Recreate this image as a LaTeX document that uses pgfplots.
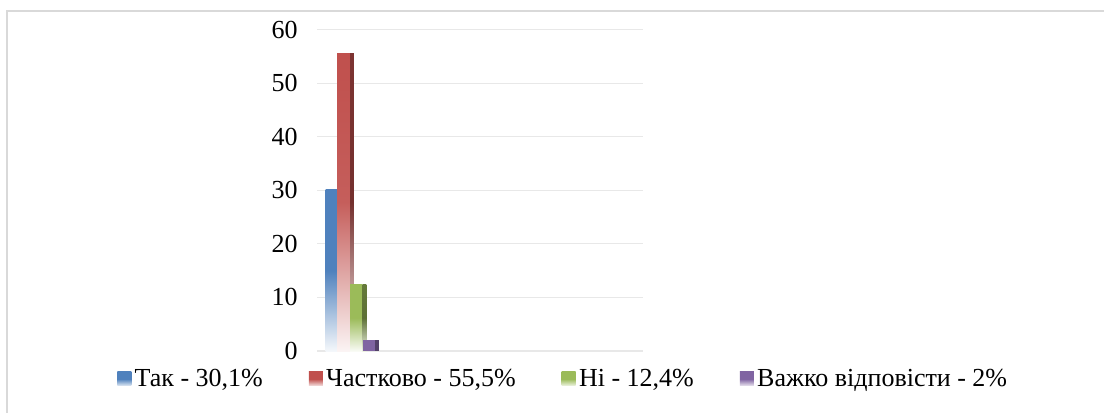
\documentclass[border=0pt]{standalone}
\usepackage{pgfplots}
\pgfplotsset{compat=1.18}
\usepackage{fontspec}
\setmainfont{Liberation Serif}
\newfontfamily\lserif{Liberation Serif}
\definecolor{cblue}{HTML}{4F81BD}
\definecolor{cred}{HTML}{C0504D}
\definecolor{cgreen}{HTML}{9BBB59}
\definecolor{cpurple}{HTML}{8064A2}
\definecolor{frame}{HTML}{D9D9D9}
\begin{document}
\begin{tikzpicture}
\path[use as bounding box] (0pt,0pt) rectangle (828pt,309pt);
\draw[frame, line width=1.5pt] (5.25pt,-10pt) -- (5.25pt,300.4pt) -- (840pt,300.4pt);
\begin{axis}[
  at={(237.75pt,45.75pt)}, anchor=south west,
  scale only axis, width=244.5pt, height=241.1pt,
  xmin=0, xmax=326, ymin=0, ymax=60,
  ytick={0,10,20,30,40,50,60}, xtick=\empty,
  ymajorgrids, major grid style={color=black!9, line width=0.8pt},
  axis line style={draw=none}, major tick length=0pt,
  /pgf/number format/assume math mode=true,
  yticklabel style={font=\lserif\fontsize{19.5}{23}\selectfont, xshift=-11pt},
  ybar, bar shift=0pt,
  legend columns=4,
  legend style={at={(axis description cs:-0.6135,-0.087)}, anchor=west,
    draw=none, fill=none, inner sep=0pt,
    font=\lserif\fontsize{19.5}{23}\selectfont,
    nodes={inner xsep=2.5pt, inner ysep=0pt},
    /tikz/every even column/.append style={column sep=32pt}},
]
\addplot[draw=none, bar width=12, top color=cblue, bottom color=cblue!6, middle color=cblue,
  legend image code/.code={\path[top color=cblue, bottom color=cblue!15, middle color=cblue] (0pt,-5.25pt) rectangle (10.5pt,5.25pt);}]
  coordinates {(14.5,30.1)};
\addlegendentry{Так - 30,1\%}
\addplot[forget plot, draw=none, bar width=3.8, top color=cblue!70!black, bottom color=cblue!10, middle color=cblue!70!black] coordinates {(22.4,30.1)};
\addplot[draw=none, bar width=13, top color=cred, bottom color=cred!6, middle color=cred!92!white,
  legend image code/.code={\path[top color=cred, bottom color=cred!15, middle color=cred] (0pt,-5.25pt) rectangle (10.5pt,5.25pt);}]
  coordinates {(26.5,55.5)};
\addlegendentry{Частково - 55,5\%}
\addplot[forget plot, draw=none, bar width=3.8, top color=cred!65!black, bottom color=cred!15, middle color=cred!60!black] coordinates {(34.9,55.5)};
\addplot[draw=none, bar width=12.6, top color=cgreen, bottom color=cgreen!6, middle color=cgreen,
  legend image code/.code={\path[top color=cgreen, bottom color=cgreen!15, middle color=cgreen] (0pt,-5.25pt) rectangle (10.5pt,5.25pt);}]
  coordinates {(39.3,12.4)};
\addlegendentry{Ні - 12,4\%}
\addplot[forget plot, draw=none, bar width=3.8, top color=cgreen!65!black, bottom color=cgreen!20, middle color=cgreen!60!black] coordinates {(47.5,12.4)};
\addplot[draw=none, bar width=12, fill=cpurple,
  legend image code/.code={\path[top color=cpurple, bottom color=cpurple!15, middle color=cpurple] (0pt,-5.25pt) rectangle (10.5pt,5.25pt);}]
  coordinates {(52,2)};
\addlegendentry{Важко відповісти - 2\%}
\addplot[forget plot, draw=none, bar width=3.8, fill=cpurple!65!black] coordinates {(59.9,2)};
\end{axis}
\end{tikzpicture}
\end{document}
